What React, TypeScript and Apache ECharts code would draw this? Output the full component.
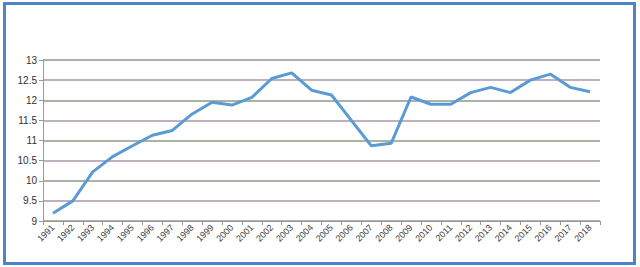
import React, { useEffect, useRef } from "react";
import * as echarts from "echarts";

const years = [
  "1991", "1992", "1993", "1994", "1995", "1996", "1997", "1998", "1999", "2000",
  "2001", "2002", "2003", "2004", "2005", "2006", "2007", "2008", "2009", "2010",
  "2011", "2012", "2013", "2014", "2015", "2016", "2017", "2018",
];
const values = [
  9.19, 9.5, 10.22, 10.6, 10.87, 11.13, 11.25, 11.66, 11.95, 11.88,
  12.07, 12.54, 12.68, 12.25, 12.13, 11.5, 10.87, 10.93, 12.08, 11.9,
  11.9, 12.19, 12.32, 12.19, 12.5, 12.65, 12.32, 12.21,
];

export default function App() {
  const ref = useRef<HTMLDivElement>(null);
  useEffect(() => {
    if (!ref.current) return;
    const chart = echarts.init(ref.current, null, { renderer: "svg" });
    chart.setOption({
      animation: false,
      backgroundColor: "#ffffff",
      textStyle: { fontFamily: "Liberation Sans" },
      graphic: [
        {
          type: "rect",
          shape: { x: 4.5, y: 3.5, width: 630, height: 260 },
          style: { fill: "none", stroke: "#4a85cc", lineWidth: 3 },
          silent: true,
        },
      ],
      grid: { left: 43, right: 40, top: 60, bottom: 46, containLabel: false },
      xAxis: {
        type: "category",
        data: years,
        boundaryGap: true,
        axisLine: { lineStyle: { color: "#9a9a9a", width: 1 } },
        axisTick: { show: true, alignWithLabel: false, length: 4, lineStyle: { color: "#9a9a9a" } },
        axisLabel: {
          interval: 0,
          rotate: 45,
          fontSize: 9,
          color: "#404040",
          margin: 5,
        },
      },
      yAxis: {
        type: "value",
        min: 9,
        max: 13,
        interval: 0.5,
        axisLine: { show: true, lineStyle: { color: "#9a9a9a" } },
        axisTick: { show: true, length: 4, lineStyle: { color: "#9a9a9a" } },
        axisLabel: { fontSize: 10, color: "#303030", margin: 6 },
        splitLine: {
          show: true,
          lineStyle: { color: ["#8c9a88", "#a896aa"], width: 1.5 },
        },
      },
      series: [
        {
          type: "line",
          data: values,
          symbol: "none",
          lineStyle: { color: "#5b9bd5", width: 3 },
        },
      ],
    });
    return () => chart.dispose();
  }, []);
  return (
    <div
      ref={ref}
      style={{ position: "fixed", left: 0, top: 0, width: 640, height: 267 }}
    />
  );
}
